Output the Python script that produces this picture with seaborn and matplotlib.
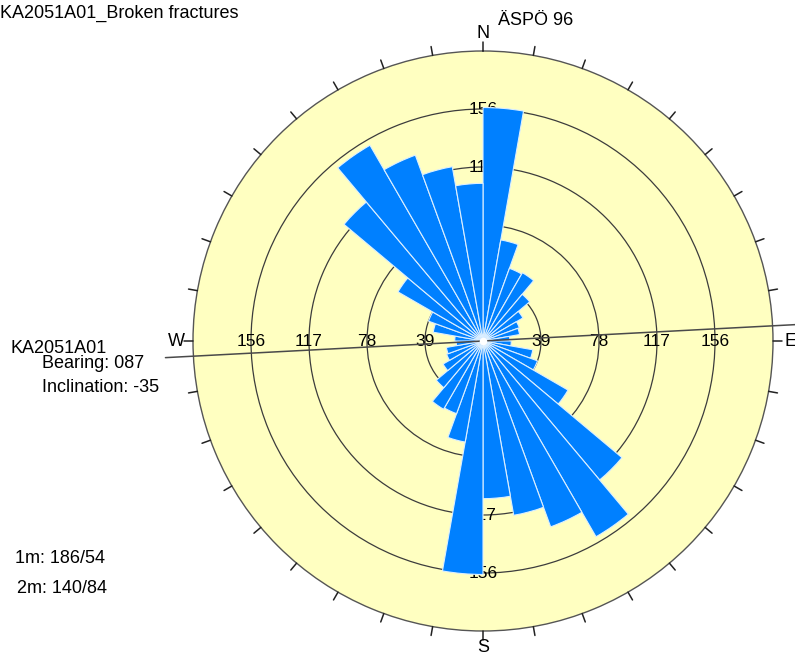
import numpy as np
import matplotlib
matplotlib.use("Agg")
import matplotlib.pyplot as plt
import seaborn as sns

# fracture strike counts, 10 degree bins (bidirectional rose)
bin_start = list(range(0, 360, 10))
counts = [157, 69, 52, 53, 41, 31, 26, 25, 18, 19, 34, 39, 66, 122, 152, 133, 119, 106,
          157, 69, 52, 53, 41, 31, 26, 25, 18, 19, 34, 39, 66, 122, 152, 133, 119, 106]
rings = [39, 78, 117, 156]
r_max = 195
bearing = 87

title = "KA2051A01_Broken fractures"
site = "ÄSPÖ 96"
hole_lines = ["Bearing: 087", "Inclination: -35"]
mean_lines = ["1m: 186/54", "2m: 140/84"]

sns.set_style("white")
plt.rcParams["font.family"] = ["Liberation Sans", "DejaVu Sans"]
plt.rcParams["text.color"] = "black"

W, H = 795, 661
cx, cy, R = 483, 341, 290
fig = plt.figure(figsize=(W / 100, H / 100), dpi=100)
ax = fig.add_axes([(cx - R) / W, (H - cy - R) / H, 2 * R / W, 2 * R / H], projection="polar")
ax.set_theta_zero_location("N")
ax.set_theta_direction(-1)
ax.set_ylim(0, r_max)
ax.set_facecolor("#FFFFC1")
ax.set_xticks([])
ax.set_yticks(rings)
ax.set_yticklabels([])
ax.yaxis.grid(True, color="#3c3c3c", lw=0.9)
ax.spines["polar"].set_color("#555555")
ax.spines["polar"].set_linewidth(1.0)

theta = np.deg2rad(np.array(bin_start) + 5)
ax.bar(theta, counts, width=np.deg2rad(10), color="#0080FF",
       edgecolor="#dcefff", linewidth=0.8, zorder=2)

# ring labels along the four axes, under the bars
for r in rings:
    for t in (0, 90, 180, 270):
        ax.text(np.deg2rad(t), r, str(r), ha="center", va="center",
                fontsize=12.5, zorder=1.5)

# outer ticks every 10 degrees
tick_out = r_max * (1 + 9 / R)
for t in range(0, 360, 10):
    ax.plot([np.deg2rad(t)] * 2, [r_max, tick_out], color="#222222", lw=1.1,
            clip_on=False, zorder=3)

for lab, t in zip("NESW", (0, 90, 180, 270)):
    ax.text(np.deg2rad(t), r_max * (1 + 17 / R), lab, ha="center", va="center",
            fontsize=13, clip_on=False)

# borehole line
line_r = r_max * 318 / R
for t in (bearing, bearing + 180):
    ax.plot([np.deg2rad(t)] * 2, [0, line_r], color="#4a4a4a", lw=1.1,
            clip_on=False, zorder=3)

ax.scatter([0], [0], s=30, color="white", zorder=4, linewidths=0)

def ftext(x, y, s, **kw):
    fig.text(x / W, 1 - y / H, s, va="baseline", ha="left", fontsize=13, **kw)

ftext(0, 18, title)
ftext(498, 25, site)
ftext(11, 353, "KA2051A01")
ftext(42, 368, hole_lines[0])
ftext(42, 392, hole_lines[1])
ftext(15, 563, mean_lines[0])
ftext(17, 593, mean_lines[1])

fig.savefig("out.png", dpi=100)
